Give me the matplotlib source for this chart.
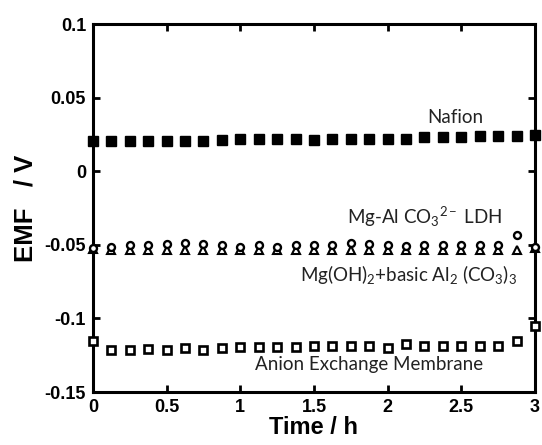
import numpy as np
import matplotlib
matplotlib.use("Agg")
import matplotlib.pyplot as plt

plt.rcParams["mathtext.fontset"] = "custom"
plt.rcParams["mathtext.rm"] = "Lato"
plt.rcParams["mathtext.it"] = "Lato"

time_h = [0, 0.125, 0.25, 0.375, 0.5, 0.625, 0.75, 0.875, 1.0, 1.125, 1.25, 1.375,
          1.5, 1.625, 1.75, 1.875, 2.0, 2.125, 2.25, 2.375, 2.5, 2.625, 2.75, 2.875, 3.0]

nafion = [0.0206, 0.0206, 0.0205, 0.0205, 0.0206, 0.0206, 0.0208, 0.0214, 0.0216, 0.0216,
          0.0216, 0.0218, 0.0214, 0.0218, 0.0218, 0.0218, 0.0218, 0.0220, 0.0232, 0.0232,
          0.0232, 0.0236, 0.0236, 0.0240, 0.0243]

ldh = [-0.0520, -0.0518, -0.0500, -0.0500, -0.0494, -0.0486, -0.0494, -0.0498, -0.0518, -0.0500,
       -0.0512, -0.0500, -0.0500, -0.0500, -0.0487, -0.0496, -0.0500, -0.0505, -0.0498, -0.0502,
       -0.0498, -0.0502, -0.0498, -0.0432, -0.0514]

mgoh = [-0.0525, -0.0535, -0.0537, -0.0537, -0.0537, -0.0537, -0.0537, -0.0537, -0.0537, -0.0537,
        -0.0537, -0.0537, -0.0537, -0.0537, -0.0537, -0.0537, -0.0537, -0.0537, -0.0537, -0.0537,
        -0.0537, -0.0537, -0.0537, -0.0535, -0.0520]

aem = [-0.1155, -0.1213, -0.1213, -0.1206, -0.1213, -0.1198, -0.1213, -0.1198, -0.1194, -0.1194,
       -0.1194, -0.1194, -0.1190, -0.1190, -0.1190, -0.1190, -0.1201, -0.1172, -0.1185, -0.1185,
       -0.1185, -0.1185, -0.1185, -0.1156, -0.1050]

xticks = [0, 0.5, 1, 1.5, 2, 2.5, 3]
xticklabels = ["0", "0.5", "1", "1.5", "2", "2.5", "3"]
yticks = [-0.15, -0.1, -0.05, 0, 0.05, 0.1]
yticklabels = ["-0.15", "-0.1", "-0.05", "0", "0.05", "0.1"]

fig = plt.figure(figsize=(5.42, 4.45), dpi=100)
ax = fig.add_axes([0.1716, 0.119, 0.8154, 0.827])

ax.plot(time_h, nafion, linestyle="none", marker="s", markersize=7.5,
        color="black", clip_on=False, zorder=3)
ax.plot(time_h, mgoh, linestyle="none", marker="^", markersize=5.5,
        markerfacecolor="white", markeredgecolor="black", markeredgewidth=1.5,
        clip_on=False, zorder=3)
ax.plot(time_h, ldh, linestyle="none", marker="o", markersize=5,
        markerfacecolor="white", markeredgecolor="black", markeredgewidth=1.7,
        clip_on=False, zorder=4)
ax.plot(time_h, aem, linestyle="none", marker="s", markersize=5.5,
        markerfacecolor="white", markeredgecolor="black", markeredgewidth=1.9,
        clip_on=False, zorder=3)

ax.set_xlim(0, 3)
ax.set_ylim(-0.15, 0.1)

tickfont = dict(family="Liberation Sans", weight="bold", size=13)
ax.set_xticks(xticks)
ax.set_xticklabels(xticklabels, fontdict=tickfont)
ax.set_yticks(yticks)
ax.set_yticklabels(yticklabels, fontdict=tickfont)
ax.tick_params(axis="both", direction="in", length=5, width=2,
               top=True, right=True, pad=5)

for sp in ax.spines.values():
    sp.set_linewidth(2.2)

labfont = dict(family="Liberation Sans", weight="bold", size=17)
ax.set_xlabel("Time / h", fontdict=labfont, labelpad=0)
ax.set_ylabel("EMF   / V", fontdict=dict(labfont, size=18.5), labelpad=5)

txtfont = dict(family="Lato", size=13.5, color="#222222")
ax.text(2.46, 0.0363, "Nafion", ha="center", va="center", **txtfont)
ax.text(2.25, -0.0310, r"Mg-Al CO$_3$$^{2-}$ LDH", ha="center", va="center", **txtfont)
ax.text(2.14, -0.0703, r"Mg(OH)$_2$+basic Al$_2$ (CO$_3$)$_3$", ha="center", va="center", **txtfont)
ax.text(1.875, -0.1315, "Anion Exchange Membrane", ha="center", va="center", **txtfont)

fig.savefig("out.png", dpi=100)
